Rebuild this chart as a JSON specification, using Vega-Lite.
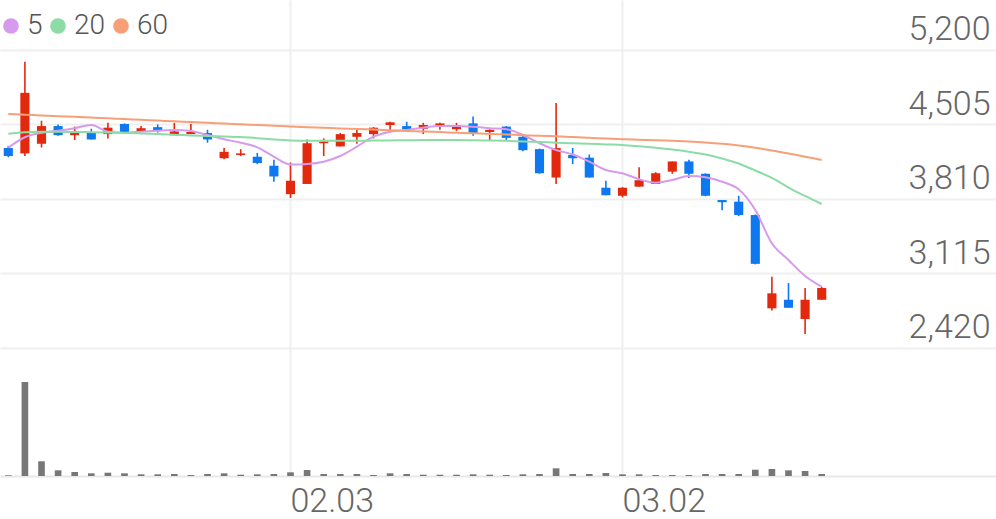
{
  "$schema": "https://vega.github.io/schema/vega-lite/v6.json",
  "width": 996,
  "height": 476,
  "autosize": "none",
  "padding": {"left": 0, "top": 0, "right": 0, "bottom": 43},
  "data": {
    "values": [
      {"date": "2020-01-07", "open": 4285, "high": 4305, "low": 4200, "close": 4210, "volume": 70000, "ma5": 4289, "ma20": 4419, "ma60": 4603},
      {"date": "2020-01-08", "open": 4235, "high": 5090, "low": 4210, "close": 4800, "volume": 9400000, "ma5": 4386, "ma20": 4433, "ma60": 4596},
      {"date": "2020-01-09", "open": 4325, "high": 4540, "low": 4290, "close": 4490, "volume": 1470000, "ma5": 4428, "ma20": 4437, "ma60": 4589},
      {"date": "2020-01-10", "open": 4490, "high": 4505, "low": 4400, "close": 4405, "volume": 570000, "ma5": 4447, "ma20": 4437, "ma60": 4582},
      {"date": "2020-01-13", "open": 4405, "high": 4485, "low": 4360, "close": 4425, "volume": 400000, "ma5": 4470, "ma20": 4435, "ma60": 4576},
      {"date": "2020-01-14", "open": 4430, "high": 4465, "low": 4365, "close": 4365, "volume": 270000, "ma5": 4500, "ma20": 4433, "ma60": 4569},
      {"date": "2020-01-15", "open": 4415, "high": 4520, "low": 4375, "close": 4475, "volume": 330000, "ma5": 4438, "ma20": 4430, "ma60": 4562},
      {"date": "2020-01-16", "open": 4510, "high": 4515, "low": 4425, "close": 4430, "volume": 270000, "ma5": 4428, "ma20": 4426, "ma60": 4555},
      {"date": "2020-01-17", "open": 4435, "high": 4490, "low": 4435, "close": 4470, "volume": 170000, "ma5": 4438, "ma20": 4421, "ma60": 4548},
      {"date": "2020-01-20", "open": 4480, "high": 4505, "low": 4430, "close": 4445, "volume": 170000, "ma5": 4447, "ma20": 4415, "ma60": 4541},
      {"date": "2020-01-21", "open": 4405, "high": 4520, "low": 4405, "close": 4440, "volume": 200000, "ma5": 4454, "ma20": 4409, "ma60": 4534},
      {"date": "2020-01-22", "open": 4415, "high": 4510, "low": 4415, "close": 4435, "volume": 100000, "ma5": 4444, "ma20": 4402, "ma60": 4528},
      {"date": "2020-01-23", "open": 4425, "high": 4455, "low": 4335, "close": 4365, "volume": 200000, "ma5": 4407, "ma20": 4398, "ma60": 4521},
      {"date": "2020-01-28", "open": 4190, "high": 4285, "low": 4180, "close": 4250, "volume": 270000, "ma5": 4367, "ma20": 4392, "ma60": 4514},
      {"date": "2020-01-29", "open": 4220, "high": 4275, "low": 4210, "close": 4235, "volume": 130000, "ma5": 4335, "ma20": 4387, "ma60": 4507},
      {"date": "2020-01-30", "open": 4205, "high": 4240, "low": 4135, "close": 4145, "volume": 170000, "ma5": 4292, "ma20": 4377, "ma60": 4500},
      {"date": "2020-01-31", "open": 4120, "high": 4175, "low": 3970, "close": 4020, "volume": 200000, "ma5": 4205, "ma20": 4365, "ma60": 4493},
      {"date": "2020-02-03", "open": 3855, "high": 4150, "low": 3820, "close": 3980, "volume": 370000, "ma5": 4132, "ma20": 4356, "ma60": 4486},
      {"date": "2020-02-04", "open": 3950, "high": 4365, "low": 3950, "close": 4330, "volume": 600000, "ma5": 4137, "ma20": 4353, "ma60": 4480},
      {"date": "2020-02-05", "open": 4330, "high": 4375, "low": 4210, "close": 4345, "volume": 200000, "ma5": 4158, "ma20": 4353, "ma60": 4474},
      {"date": "2020-02-06", "open": 4300, "high": 4425, "low": 4300, "close": 4415, "volume": 200000, "ma5": 4211, "ma20": 4353, "ma60": 4468},
      {"date": "2020-02-07", "open": 4390, "high": 4455, "low": 4325, "close": 4425, "volume": 200000, "ma5": 4298, "ma20": 4353, "ma60": 4463},
      {"date": "2020-02-10", "open": 4415, "high": 4480, "low": 4375, "close": 4475, "volume": 100000, "ma5": 4391, "ma20": 4355, "ma60": 4457},
      {"date": "2020-02-11", "open": 4500, "high": 4530, "low": 4430, "close": 4525, "volume": 270000, "ma5": 4438, "ma20": 4356, "ma60": 4451},
      {"date": "2020-02-12", "open": 4490, "high": 4530, "low": 4460, "close": 4460, "volume": 200000, "ma5": 4454, "ma20": 4358, "ma60": 4445},
      {"date": "2020-02-13", "open": 4465, "high": 4520, "low": 4415, "close": 4500, "volume": 130000, "ma5": 4475, "ma20": 4359, "ma60": 4440},
      {"date": "2020-02-14", "open": 4490, "high": 4520, "low": 4455, "close": 4515, "volume": 130000, "ma5": 4491, "ma20": 4359, "ma60": 4434},
      {"date": "2020-02-17", "open": 4460, "high": 4520, "low": 4445, "close": 4500, "volume": 130000, "ma5": 4491, "ma20": 4359, "ma60": 4428},
      {"date": "2020-02-18", "open": 4515, "high": 4580, "low": 4400, "close": 4425, "volume": 170000, "ma5": 4484, "ma20": 4357, "ma60": 4422},
      {"date": "2020-02-19", "open": 4435, "high": 4460, "low": 4360, "close": 4455, "volume": 130000, "ma5": 4470, "ma20": 4355, "ma60": 4417},
      {"date": "2020-02-20", "open": 4485, "high": 4490, "low": 4360, "close": 4380, "volume": 100000, "ma5": 4460, "ma20": 4352, "ma60": 4411},
      {"date": "2020-02-21", "open": 4390, "high": 4400, "low": 4255, "close": 4265, "volume": 170000, "ma5": 4407, "ma20": 4347, "ma60": 4405},
      {"date": "2020-02-24", "open": 4275, "high": 4280, "low": 4045, "close": 4050, "volume": 200000, "ma5": 4330, "ma20": 4342, "ma60": 4399},
      {"date": "2020-02-25", "open": 4010, "high": 4705, "low": 3950, "close": 4285, "volume": 770000, "ma5": 4267, "ma20": 4335, "ma60": 4394},
      {"date": "2020-02-26", "open": 4220, "high": 4285, "low": 4135, "close": 4190, "volume": 200000, "ma5": 4225, "ma20": 4330, "ma60": 4388},
      {"date": "2020-02-27", "open": 4195, "high": 4225, "low": 4010, "close": 4010, "volume": 200000, "ma5": 4158, "ma20": 4325, "ma60": 4381},
      {"date": "2020-02-28", "open": 3915, "high": 3980, "low": 3845, "close": 3845, "volume": 300000, "ma5": 4080, "ma20": 4319, "ma60": 4373},
      {"date": "2020-03-02", "open": 3840, "high": 3920, "low": 3825, "close": 3915, "volume": 170000, "ma5": 4050, "ma20": 4314, "ma60": 4367},
      {"date": "2020-03-03", "open": 3925, "high": 4105, "low": 3925, "close": 3985, "volume": 170000, "ma5": 3994, "ma20": 4302, "ma60": 4362},
      {"date": "2020-03-04", "open": 3950, "high": 4060, "low": 3950, "close": 4050, "volume": 100000, "ma5": 3962, "ma20": 4288, "ma60": 4358},
      {"date": "2020-03-05", "open": 4065, "high": 4160, "low": 4045, "close": 4160, "volume": 100000, "ma5": 3987, "ma20": 4271, "ma60": 4352},
      {"date": "2020-03-06", "open": 4160, "high": 4175, "low": 4005, "close": 4045, "volume": 100000, "ma5": 4024, "ma20": 4250, "ma60": 4346},
      {"date": "2020-03-09", "open": 4045, "high": 4050, "low": 3835, "close": 3840, "volume": 200000, "ma5": 4012, "ma20": 4225, "ma60": 4337},
      {"date": "2020-03-10", "open": 3800, "high": 3800, "low": 3705, "close": 3780, "volume": 200000, "ma5": 3971, "ma20": 4188, "ma60": 4325},
      {"date": "2020-03-11", "open": 3785, "high": 3840, "low": 3650, "close": 3660, "volume": 200000, "ma5": 3900, "ma20": 4141, "ma60": 4309},
      {"date": "2020-03-12", "open": 3660, "high": 3665, "low": 3200, "close": 3205, "volume": 630000, "ma5": 3707, "ma20": 4076, "ma60": 4288},
      {"date": "2020-03-13", "open": 2790, "high": 3085, "low": 2770, "close": 2930, "volume": 700000, "ma5": 3397, "ma20": 4006, "ma60": 4262},
      {"date": "2020-03-16", "open": 2870, "high": 3025, "low": 2795, "close": 2795, "volume": 570000, "ma5": 3241, "ma20": 3917, "ma60": 4234},
      {"date": "2020-03-17", "open": 2690, "high": 2980, "low": 2550, "close": 2870, "volume": 500000, "ma5": 3092, "ma20": 3838, "ma60": 4204},
      {"date": "2020-03-18", "open": 2870, "high": 2990, "low": 2870, "close": 2980, "volume": 200000, "ma5": 2992, "ma20": 3763, "ma60": 4174}
    ]
  },
  "encoding": {
    "x": {
      "field": "date",
      "type": "ordinal",
      "scale": {
        "type": "band",
        "paddingInner": 0,
        "paddingOuter": 0,
        "domain": [
          "2020-01-07", "2020-01-08", "2020-01-09", "2020-01-10", "2020-01-13", "2020-01-14", "2020-01-15", "2020-01-16", "2020-01-17", "2020-01-20",
          "2020-01-21", "2020-01-22", "2020-01-23", "2020-01-28", "2020-01-29", "2020-01-30", "2020-01-31", "2020-02-03", "2020-02-04", "2020-02-05",
          "2020-02-06", "2020-02-07", "2020-02-10", "2020-02-11", "2020-02-12", "2020-02-13", "2020-02-14", "2020-02-17", "2020-02-18", "2020-02-19",
          "2020-02-20", "2020-02-21", "2020-02-24", "2020-02-25", "2020-02-26", "2020-02-27", "2020-02-28", "2020-03-02", "2020-03-03", "2020-03-04",
          "2020-03-05", "2020-03-06", "2020-03-09", "2020-03-10", "2020-03-11", "2020-03-12", "2020-03-13", "2020-03-16", "2020-03-17", "2020-03-18",
          "2020-03-19", "2020-03-20", "2020-03-23", "2020-03-24", "2020-03-25", "2020-03-26", "2020-03-27", "2020-03-30", "2020-03-31", "2020-04-01"
        ]
      },
      "axis": {
        "title": null,
        "values": ["2020-02-03", "2020-03-02"],
        "labelExpr": "replace(slice(datum.value, 5), '-', '.')",
        "bandPosition": 0.5,
        "grid": true,
        "gridColor": "#efefef",
        "gridWidth": 2,
        "ticks": false,
        "domainColor": "#e8e8e8",
        "domainWidth": 2,
        "labelAngle": 0,
        "labelAlign": "left",
        "labelBaseline": "top",
        "labelPadding": 8,
        "labelFont": "Roboto",
        "labelFontWeight": 300,
        "labelFontSize": 34,
        "labelColor": "#666666"
      }
    }
  },
  "layer": [
    {
      "mark": {"type": "bar", "color": "#777777", "width": {"band": 0.4}},
      "encoding": {
        "y": {
          "field": "volume",
          "type": "quantitative",
          "scale": {"domain": [0, 47600000], "nice": false, "zero": true},
          "axis": null
        }
      }
    },
    {
      "layer": [
        {
          "mark": {"type": "rule", "strokeWidth": 1.6},
          "encoding": {
            "y": {
              "field": "low",
              "type": "quantitative",
              "scale": {"domain": [1226, 5666], "nice": false, "zero": false},
              "axis": {
                "title": null,
                "orient": "right",
                "values": [2420, 3115, 3810, 4505, 5200],
                "labelExpr": "format(datum.value, ',')",
                "grid": true,
                "gridColor": "#efefef",
                "gridWidth": 2,
                "domain": false,
                "ticks": false,
                "labelAlign": "right",
                "labelBaseline": "alphabetic",
                "labelOffset": -10,
                "labelPadding": -6,
                "labelFont": "Roboto",
                "labelFontWeight": 300,
                "labelFontSize": 34,
                "labelColor": "#666666"
              }
            },
            "y2": {"field": "high"},
            "color": {
              "condition": {"test": "datum.close >= datum.open", "value": "#e2290d"},
              "value": "#0d78f0"
            }
          }
        },
        {
          "mark": {"type": "bar", "width": {"band": 0.55}},
          "encoding": {
            "y": {"field": "open", "type": "quantitative"},
            "y2": {"field": "close"},
            "color": {
              "condition": {"test": "datum.close >= datum.open", "value": "#e2290d"},
              "value": "#0d78f0"
            }
          }
        },
        {
          "transform": [{"fold": ["ma5", "ma20", "ma60"], "as": ["ma", "maValue"]}],
          "mark": {"type": "line", "strokeWidth": 2, "interpolate": "monotone"},
          "encoding": {
            "y": {"field": "maValue", "type": "quantitative"},
            "color": {
              "field": "ma",
              "type": "nominal",
              "scale": {"domain": ["ma5", "ma20", "ma60"], "range": ["#d69bec", "#8cdca5", "#f7a078"]},
              "legend": {
                "title": null,
                "orient": "none",
                "legendX": -3,
                "legendY": 12,
                "direction": "horizontal",
                "padding": 0,
                "symbolType": "circle",
                "symbolSize": 246,
                "symbolStrokeWidth": 0,
                "labelOffset": 2,
                "columnPadding": 1,
                "labelExpr": "replace(datum.label, 'ma', '')",
                "labelFont": "Roboto",
                "labelFontWeight": 300,
                "labelFontSize": 28,
                "labelColor": "#555555",
                "encode": {
                  "symbols": {
                    "update": {
                      "fill": {"scale": "color", "field": "value"},
                      "fillOpacity": {"value": 1}
                    }
                  }
                }
              }
            }
          }
        }
      ]
    }
  ],
  "resolve": {"scale": {"y": "independent"}},
  "config": {"view": {"stroke": null}}
}
